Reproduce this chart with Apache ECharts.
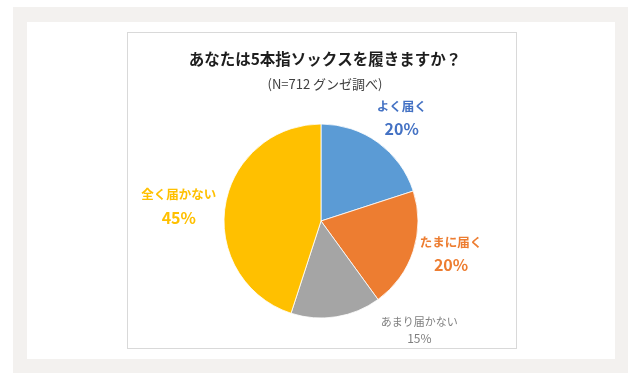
<!DOCTYPE html>
<html><head><meta charset="utf-8">
<script src="https://cdn.jsdelivr.net/npm/echarts@6/dist/echarts.min.js"></script>
<style>
html,body{margin:0;padding:0;background:#fff;width:640px;height:382px;overflow:hidden;}
#frame{position:absolute;left:13px;top:7px;width:615px;height:366px;background:#f3f1ef;}
#panel{position:absolute;left:27px;top:22px;width:588px;height:337px;background:#fff;}
#box{position:absolute;left:127px;top:32px;width:388px;height:315px;border:1px solid #d9d9d9;background:#fff;}
#chart{position:absolute;left:0;top:0;width:640px;height:382px;}
</style></head>
<body>
<div id="frame"></div><div id="panel"></div><div id="box"></div>
<div id="chart"></div>
<script>
const categories = ['よく届く', 'たまに届く', 'あまり届かない', '全く届かない'];
const values = [20, 20, 15, 45];
const sliceColors = ['#5b9bd5', '#ed7d31', '#a5a5a5', '#ffc000'];
const labelColors = ['#4472c4', '#ed7d31', '#7f7f7f', '#ffc000'];
// label placement: distance from centre and angle offset (deg) from slice middle
const labelDist = [131, 134, 147, 143];
const labelAngleOff = [2, -4, -33, -3];

const cx = 321, cy = 221, R = 97;
const total = values.reduce((a, b) => a + b, 0);
const mids = [];
let acc = 0;
values.forEach(v => { mids.push((acc + v / 2) / total * 360); acc += v; });

const chart = echarts.init(document.getElementById('chart'), null, {renderer: 'canvas'});
const font = '"Noto Sans CJK JP", "Noto Sans", sans-serif';
chart.setOption({
  animation: false,
  title: {
    text: 'あなたは5本指ソックスを履きますか？',
    subtext: '(N=712 グンゼ調べ)',
    left: 320, top: 46, textAlign: 'center',
    itemGap: 11,
    textStyle: {fontFamily: font, fontSize: 15.5, fontWeight: 'bold', color: '#1e1e1e'},
    subtextStyle: {fontFamily: font, fontSize: 13, color: '#404040'}
  },
  series: [{
    type: 'pie',
    center: [cx, cy],
    radius: R,
    startAngle: 90,
    clockwise: true,
    itemStyle: {borderColor: '#fff', borderWidth: 0.8},
    labelLine: {show: false},
    data: categories.map((c, i) => ({
      name: c, value: values[i],
      itemStyle: {color: sliceColors[i]},
      label: i === 2 ? {
        formatter: '{n|{b}}\n{p|{c}%}',
        rich: {
          n: {fontFamily: font, fontSize: 11, color: labelColors[i], lineHeight: 17, align: 'center'},
          p: {fontFamily: font, fontSize: 12, color: labelColors[i], lineHeight: 17, align: 'center'}
        }
      } : {
        formatter: '{n|{b}}\n{p|{c}%}',
        rich: {
          n: {fontFamily: font, fontSize: 12.5, fontWeight: 'bold', color: labelColors[i], lineHeight: 23, align: 'center'},
          p: {fontFamily: font, fontSize: 16, fontWeight: 'bold', color: labelColors[i], lineHeight: 23, align: 'center'}
        }
      }
    })),
    label: {show: true, position: 'outside'},
    labelLayout: function (p) {
      const i = p.dataIndex;
      const a = (mids[i] + labelAngleOff[i]) * Math.PI / 180;
      return {
        x: cx + labelDist[i] * Math.sin(a),
        y: cy - labelDist[i] * Math.cos(a),
        align: 'center',
        verticalAlign: 'middle'
      };
    }
  }]
});
</script>
</body></html>
